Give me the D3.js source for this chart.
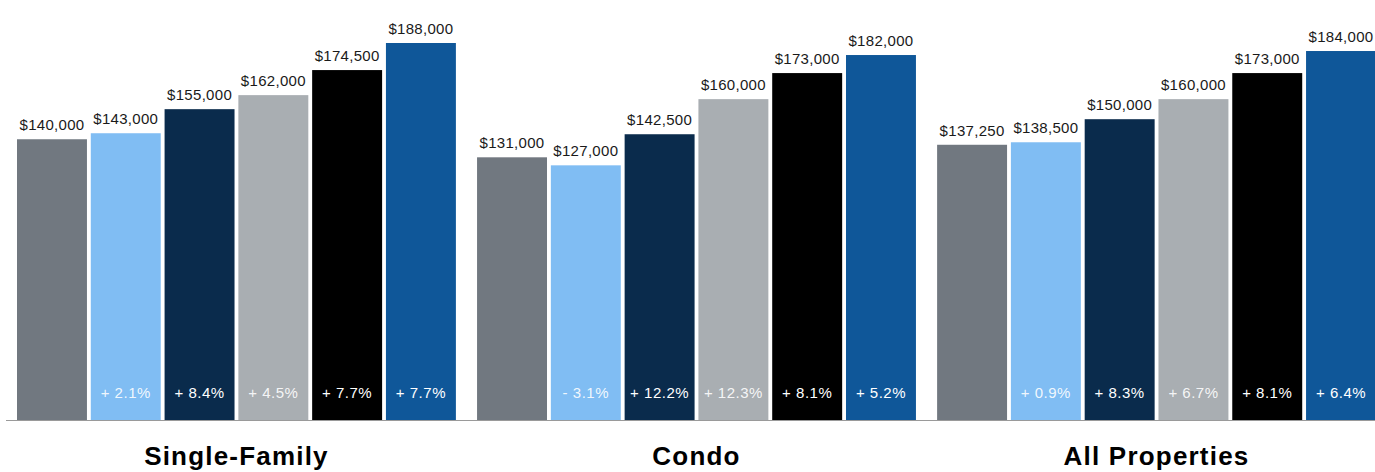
<!DOCTYPE html>
<html>
<head>
	<meta charset="utf-8">
	<title>Median Sales Price</title>
	<style>
		body { margin: 0; background: #fff; }
		text { font-family: "Liberation Sans", Arial, Helvetica, sans-serif; }
	</style>
	<script src="https://cdn.jsdelivr.net/npm/d3@7"></script>
</head>
<body>
<svg width="1375" height="472"></svg>
<script>

// data
var groups = ["Single-Family", "Condo", "All Properties"];
var seriesKeys = ["s1", "s2", "s3", "s4", "s5", "s6"];
var barColors = ["#717880", "#80bdf3", "#0a2b4c", "#a9aeb2", "#000000", "#0f5799"];

var singleFamily = [140000, 143000, 155000, 162000, 174500, 188000];
var condo = [131000, 127000, 142500, 160000, 173000, 182000];
var allProps = [137250, 138500, 150000, 160000, 173000, 184000];

var singleFamilyPct = ["", "+ 2.1%", "+ 8.4%", "+ 4.5%", "+ 7.7%", "+ 7.7%"];
var condoPct = ["", "- 3.1%", "+ 12.2%", "+ 12.3%", "+ 8.1%", "+ 5.2%"];
var allPropsPct = ["", "+ 0.9%", "+ 8.3%", "+ 6.7%", "+ 8.1%", "+ 6.4%"];

var values = [singleFamily, condo, allProps];
var pcts = [singleFamilyPct, condoPct, allPropsPct];

var svg = d3.select("svg");
var baseY = 420;

var x0 = d3.scaleBand().domain(groups).range([17, 1376]).paddingInner(0.046).paddingOuter(0);
var x1 = d3.scaleBand().domain(seriesKeys).range([0, x0.bandwidth()]).paddingInner(0.052).paddingOuter(0);
var y = d3.scaleLinear().domain([0, 188000]).range([baseY, 43]);

var rows = [];
groups.forEach(function(g, gi) {
	seriesKeys.forEach(function(k, i) {
		rows.push({ group: g, key: k, i: i, value: values[gi][i], pct: pcts[gi][i] });
	});
});

var bars = svg.append("g").selectAll("g")
	.data(rows)
	.enter().append("g")
	.attr("transform", function(d) { return "translate(" + (x0(d.group) + x1(d.key)) + ",0)"; });

bars.append("rect")
	.attr("x", 0)
	.attr("y", function(d) { return y(d.value); })
	.attr("width", x1.bandwidth())
	.attr("height", function(d) { return baseY - y(d.value); })
	.attr("fill", function(d) { return barColors[d.i]; });

// price on top
bars.append("text")
	.attr("x", x1.bandwidth() / 2)
	.attr("y", function(d) { return y(d.value) - 9; })
	.attr("text-anchor", "middle")
	.attr("font-size", "15px")
	.attr("letter-spacing", "0.3px")
	.attr("fill", "#1a1a1a")
	.text(function(d) { return d3.format("$,")(d.value); });

// change inside the bar
bars.append("text")
	.attr("x", x1.bandwidth() / 2)
	.attr("y", 398)
	.attr("text-anchor", "middle")
	.attr("font-size", "15px")
	.attr("letter-spacing", "0.5px")
	.attr("fill", "#ffffff")
	.attr("fill-opacity", function(d) { return (d.i == 1 || d.i == 3) ? 0.9 : 1; })
	.text(function(d) { return d.pct; });

// baseline
svg.append("line")
	.attr("x1", 6).attr("x2", 1375)
	.attr("y1", baseY + 0.5).attr("y2", baseY + 0.5)
	.attr("stroke", "#9a9a9a")
	.attr("stroke-width", 1.2);

// group names
svg.append("g").selectAll("text")
	.data(groups)
	.enter().append("text")
	.attr("x", function(d) { return x0(d) + x0.bandwidth() / 2; })
	.attr("y", 465)
	.attr("text-anchor", "middle")
	.attr("font-size", "26px")
	.attr("letter-spacing", "1.2px")
	.attr("font-weight", "bold")
	.attr("fill", "#000")
	.text(function(d) { return d; });

</script>
</body>
</html>
